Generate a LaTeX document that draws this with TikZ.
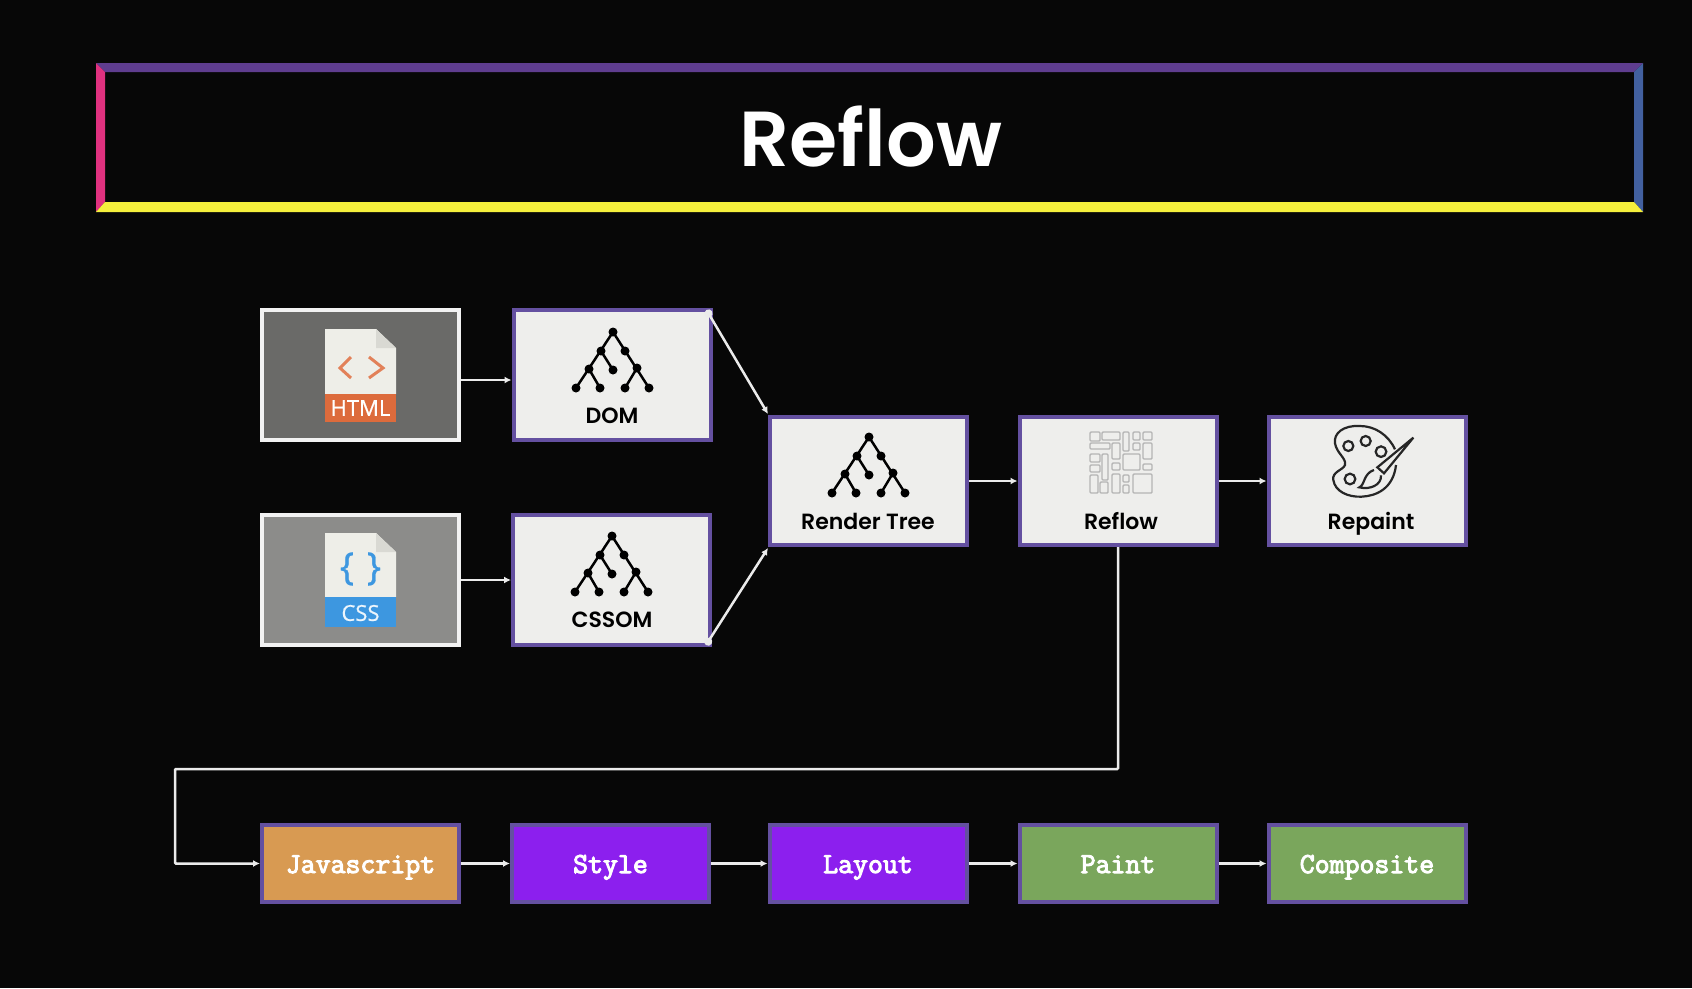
\documentclass[tikz,border=0pt]{standalone}
\usepackage{fontspec}
\usetikzlibrary{arrows.meta}
\newfontfamily\titlefont{Poppins}[UprightFont=* Medium,BoldFont=* SemiBold]
\newfontfamily\filefont{Open Sans}[FakeBold=0.7]
\newfontfamily\typefont{Latin Modern Mono}[FakeBold=3.5]
\definecolor{bgc}{HTML}{070707}
\definecolor{boxpurple}{HTML}{6450A0}
\definecolor{boxfill}{HTML}{EEEEEC}
\definecolor{htmlgray}{HTML}{6A6A68}
\definecolor{cssgray}{HTML}{8C8C8A}
\definecolor{jsorange}{HTML}{D89A52}
\definecolor{stylepurple}{HTML}{8C1FEE}
\definecolor{paintgreen}{HTML}{7AA65C}
\definecolor{topline}{HTML}{5F3D8F}
\definecolor{leftline}{HTML}{E0317F}
\definecolor{rightline}{HTML}{42609F}
\definecolor{bottomline}{HTML}{F5F03C}
\definecolor{htmlorange}{HTML}{DD6B3C}
\definecolor{cssblue}{HTML}{3D97E0}
\definecolor{pagefill}{HTML}{EEEEE8}
\definecolor{pagefold}{HTML}{D9D9D3}
\definecolor{tilegray}{HTML}{B4B4B4}
\tikzset{
  flowbox/.style={draw=boxpurple,fill=boxfill,line width=4pt,minimum width=197pt,minimum height=128pt,inner sep=0pt},
  srcbox/.style={draw=white!95!black,line width=4pt,minimum width=197pt,minimum height=130pt,inner sep=0pt},
  stagebox/.style={draw=boxpurple,line width=4pt,minimum width=197pt,minimum height=77pt,inner sep=0pt,
    text=white,text height=24pt,text depth=5pt,font=\typefont\fontsize{29}{29}\selectfont},
  boxlabel/.style={inner sep=0pt,text=black,text height=21pt,text depth=5pt,font=\titlefont\bfseries\fontsize{22}{22}\selectfont},
  filelabel/.style={inner sep=0pt,font=\filefont\fontsize{22}{22}\selectfont},
  conn/.style={draw=white!92!black,line width=2.5pt,-{Latex[length=7pt,width=7pt]}},
  dotconn/.style={conn,{Circle[length=8pt]}-{Latex[length=7pt,width=7pt]}},
  treeicon/.pic={
    \draw [line width=2.5pt] (0,0) -- (-37,56) (-24,37) -- (-13,56) (-12,19) -- (0,38)
      (0,0) -- (36,56) (24,36) -- (12,56);
    \foreach \px/\py in {0/0,-12/19,12/19,-24/37,0/38,24/36,-37/56,-13/56,12/56,36/56}
      \fill (\px,\py) circle (4.5);
  }
}
\begin{document}
\begin{tikzpicture}[x=1pt,y=-1pt]
  \fill [bgc] (0,0) rectangle (1692,988);
  \useasboundingbox (0,0) rectangle (1692,988);
  % title bar
  \fill [topline] (96,63) -- (1643,63) -- (1634,72) -- (105,72) -- cycle;
  \fill [leftline] (96,63) -- (105,72) -- (105,202) -- (96,212) -- cycle;
  \fill [rightline] (1643,63) -- (1634,72) -- (1634,202) -- (1643,212) -- cycle;
  \fill [bottomline] (96,212) -- (105,202) -- (1634,202) -- (1643,212) -- cycle;
  \node [inner sep=0pt,text=white,font=\titlefont\bfseries\fontsize{78}{78}\selectfont] (title) at (871,136) {Reflow};

  \node [srcbox,fill=htmlgray] (html) at (360.5,375) {};
  \node [flowbox,minimum height=130pt] (dom) at (612,375) {};
  \node [srcbox,fill=cssgray] (css) at (360.5,580) {};
  \node [flowbox,minimum height=130pt] (cssom) at (611.5,580) {};
  \node [flowbox] (render) at (868.5,481) {};
  \node [flowbox] (reflow) at (1118,481) {};
  \node [flowbox] (repaint) at (1367,481) {};

  \node [stagebox,fill=jsorange] (js) at (360.5,863.5) {Javascript};
  \node [stagebox,fill=stylepurple] (style) at (610.5,863.5) {Style};
  \node [stagebox,fill=stylepurple] (layout) at (868,863.5) {Layout};
  \node [stagebox,fill=paintgreen] (paint) at (1118,863.5) {Paint};
  \node [stagebox,fill=paintgreen] (composite) at (1367,863.5) {Composite};

  % html file
  \fill [pagefill] (325,329) -- (376,329) -- (396,348) -- (396,394) -- (325,394) -- cycle;
  \fill [pagefold] (376,329) -- (396,348) -- (376,348) -- cycle;
  \fill [htmlorange] (325,394) rectangle (396,422);
  \draw [htmlorange!85!white,line width=3pt] (351,357) -- (340,368) -- (351,378) (369,357) -- (383,368) -- (369,378);
  \node [filelabel,text=white] (htmltext) at (360.5,408) {HTML};

  % css file
  \fill [pagefill] (325,533) -- (376,533) -- (396,552) -- (396,597) -- (325,597) -- cycle;
  \fill [pagefold] (376,533) -- (396,552) -- (376,552) -- cycle;
  \fill [cssblue] (325,597) rectangle (396,627);
  \node [inner sep=0pt,text=cssblue,font=\filefont\fontsize{38}{38}\selectfont] (cssbrace) at (360.5,569) {\{\,\,\}};
  \node [filelabel,text=white!90!cssblue] (csstext) at (360.5,613) {CSS};

  \pic at (613,332) {treeicon};
  \pic at (612,536) {treeicon};
  \pic at (869,437) {treeicon};
  \node [boxlabel] (domtext) at (612,415) {DOM};
  \node [boxlabel] (cssomtext) at (612,619) {CSSOM};
  \node [boxlabel] (rendertext) at (868,521) {Render Tree};
  \node [boxlabel] (reflowtext) at (1121,521) {Reflow};
  \node [boxlabel] (repainttext) at (1371,521) {Repaint};

  % reflow tiles
  \begin{scope}[shift={(1090,432)}]
    \foreach \xa/\ya/\xb/\yb in {0/0/10/9,12/0/30/8,33/0/39/19,43/0/50/8,53/0/62/8,
        0/11/20/17,22/11/30/27,43/11/50/18,53/11/62/27,
        0/22/10/30,12/22/18/48,33/22/50/38,22/31/30/38,53/32/62/38,
        0/33/10/40,0/43/8/61,10/50/18/61,22/42/30/61,33/43/39/50,33/53/39/61,43/42/62/61}
      \draw [tilegray,line width=1.4pt,rounded corners=1pt] (\xa,\ya) rectangle (\xb,\yb);
  \end{scope}

  % palette and brush
  \begin{scope}[shift={(1300,410)},scale=1/3,line width=2.2pt,black!85]
    \draw (285,118) .. controls (265,75) and (225,48) .. (180,48)
      .. controls (130,45) and (100,70) .. (105,100)
      .. controls (110,130) and (140,145) .. (135,165)
      .. controls (130,180) and (95,185) .. (100,210)
      .. controls (105,245) and (145,262) .. (185,260)
      .. controls (230,258) and (280,235) .. (288,165);
    \draw (145,108) circle (15) (197,93) circle (15) (243,125) circle (16) (150,207) circle (16);
    \draw (232,172) -- (340,83) -- (252,190) -- cycle;
    \draw (222,180) .. controls (190,190) and (195,225) .. (178,232)
      .. controls (210,240) and (245,225) .. (243,196);
  \end{scope}

  \coordinate (loopa) at (reflow.south |- 0,769);
  \coordinate (loopb) at (175,769);
  \draw [conn] ([yshift=-5pt]html.east) -- ([yshift=-5pt]dom.west);
  \draw [conn] (css) -- (cssom);
  \draw [dotconn] ([shift={(-6,2)}]dom.north east) -- ([shift={(0,-1)}]render.north west);
  \draw [dotconn] ([shift={(-6,-2)}]cssom.south east) -- ([shift={(0,1)}]render.south west);
  \draw [conn] (render) -- (reflow);
  \draw [conn] (reflow) -- (repaint);
  \draw [conn,rounded corners=1pt] (reflow.south) -- (loopa) -- (loopb) -- (loopb |- js.west) -- (js.west);
  \draw [conn] (js) -- (style);
  \draw [conn] (style) -- (layout);
  \draw [conn] (layout) -- (paint);
  \draw [conn] (paint) -- (composite);
\end{tikzpicture}
\end{document}
